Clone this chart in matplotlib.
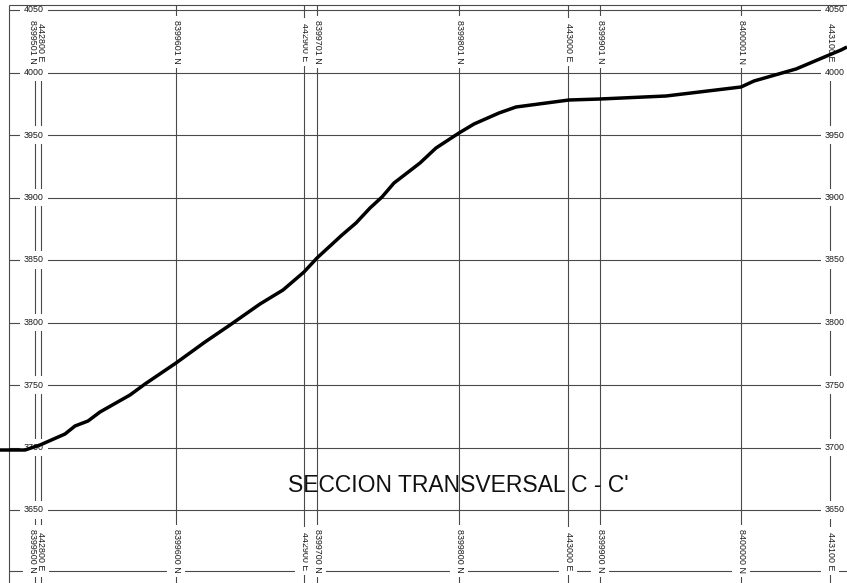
import matplotlib
matplotlib.use("Agg")
import matplotlib.pyplot as plt

# terrain profile along section C - C' (distance m, elevation m)
profile_dist = [-7.2, 0.0, 12.8, 24.8, 44.8, 52.8, 63.2, 72.8, 96.8, 108.8, 133.6,
                156.8, 176.8, 200.8, 219.2, 236.0, 246.4, 266.4, 277.6, 288.8,
                298.4, 308.0, 328.8, 341.6, 360.0, 372.0, 392.0, 405.6, 448.0,
                472.8, 525.6, 585.6, 596.0, 629.6, 665.6, 670.4]
profile_elev = [3698.0, 3698.0, 3698.0, 3702.0, 3710.8, 3717.2, 3721.2, 3728.4,
                3742.0, 3750.8, 3767.6, 3784.4, 3798.0, 3814.8, 3826.0, 3840.4,
                3851.6, 3870.0, 3879.6, 3891.6, 3900.4, 3911.6, 3927.6, 3939.6,
                3951.6, 3958.8, 3967.6, 3972.4, 3978.0, 3978.8, 3981.2, 3988.4,
                3993.2, 4002.8, 4018.0, 4020.4]

# elevation grid
elev_ticks = [3650, 3700, 3750, 3800, 3850, 3900, 3950, 4000, 4050]

# coordinate grid lines crossing the section (distance along section)
east_dist = [25.6, 236.0, 447.2, 656.8]
east_top = ["442800 E", "442900 E", "443000 E", "443100 E"]
east_bot = ["442800 E", "442900 E", "443000 E", "443100 E"]
north_dist = [20.8, 133.6, 246.4, 360.0, 472.8, 585.6]
north_top = ["8399501 N", "8399601 N", "8399701 N", "8399801 N", "8399901 N", "8400001 N"]
north_bot = ["8399500 N", "8399600 N", "8399700 N", "8399800 N", "8399900 N", "8400000 N"]

title = "SECCION TRANSVERSAL C - C'"

XMIN, XMAX = -7.2, 670.4
YMIN, YMAX = 3591.6, 4058.0
FRAME_TOP, FRAME_BOT = 4054.4, 3601.2
TOP_Y, BOT_Y = 4024.4, 3617.2
GRID = "#4a4a4a"
LBL = dict(fontsize=6.4, family=["Liberation Sans", "DejaVu Sans"], color="#1a1a1a",
           bbox=dict(boxstyle="square,pad=0.5", fc="white", ec="none"), zorder=2)

fig = plt.figure(figsize=(8.47, 5.83), dpi=100)
ax = fig.add_axes([0, 0, 1, 1])
ax.set_xlim(XMIN, XMAX)
ax.set_ylim(YMIN, YMAX)
ax.axis("off")

# grid
ax.hlines(elev_ticks, 0, XMAX, color=GRID, lw=0.8, zorder=1)
ax.hlines(FRAME_BOT, 0, XMAX, color=GRID, lw=0.8, zorder=1)
ax.vlines(east_dist + north_dist, YMIN, FRAME_TOP, color=GRID, lw=0.8, zorder=1)

# elevation labels both sides
for e in elev_ticks:
    ax.text(20.0, e, str(e), ha="center", va="center", **LBL)
    ax.text(660.8, e, str(e), ha="center", va="center", **LBL)

# coordinate labels, top and bottom
for xs, tops, bots in ((east_dist[1:], east_top[1:], east_bot[1:]),
                       (north_dist[1:], north_top[1:], north_bot[1:])):
    for x, t, b in zip(xs, tops, bots):
        ax.text(x, TOP_Y, t, rotation=-90, ha="center", va="center", **LBL)
        ax.text(x, BOT_Y, b, rotation=-90, ha="center", va="center", **LBL)

# first E and N lines nearly coincide: labels stacked side by side
left_x = (east_dist[0] + north_dist[0]) / 2 - 1.5
ax.text(left_x, TOP_Y, east_top[0] + "\n" + north_top[0], rotation=-90,
        ha="center", va="center", linespacing=0.85, **LBL)
ax.text(left_x, BOT_Y, east_bot[0] + "\n" + north_bot[0], rotation=-90,
        ha="center", va="center", linespacing=0.85, **LBL)

# outer frame drawn above the label masks
ax.hlines(FRAME_TOP, 0, XMAX, color=GRID, lw=0.8, zorder=2.5)
ax.vlines(0, YMIN, FRAME_TOP, color=GRID, lw=0.8, zorder=2.5)

# ground profile
ax.plot(profile_dist, profile_elev, color="black", lw=2.5,
        solid_joinstyle="round", solid_capstyle="butt", zorder=3)

ax.text(359.2, 3670.0, title, ha="center", va="center", fontsize=16.5,
        family=["Liberation Sans", "DejaVu Sans"], color="#111111", zorder=3)

fig.savefig("out.png", dpi=100)
plt.close(fig)
